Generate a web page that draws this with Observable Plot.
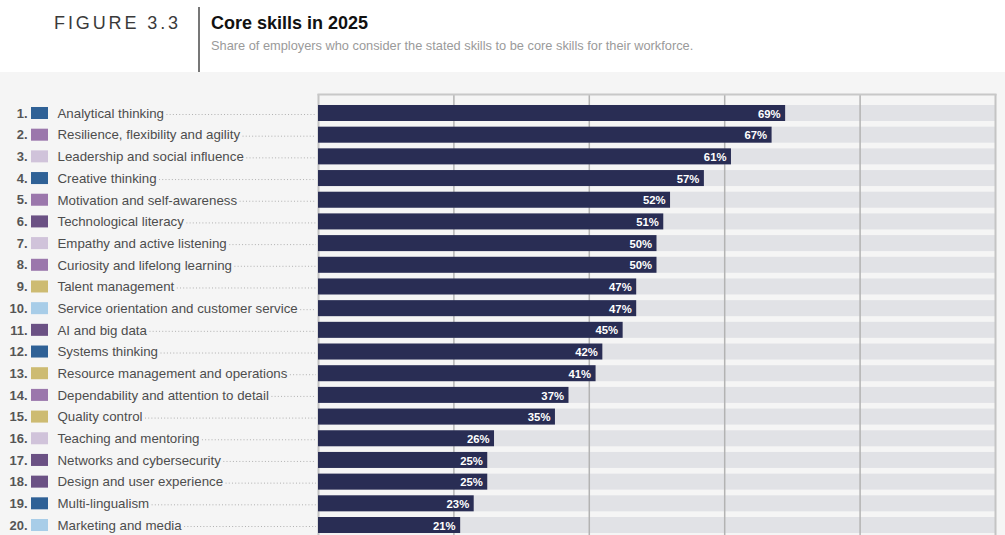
<!DOCTYPE html>
<html>
<head>
<meta charset="utf-8">
<script src="https://cdn.jsdelivr.net/npm/d3@7"></script>
<script src="https://cdn.jsdelivr.net/npm/@observablehq/plot@0.6"></script>
<style>
html, body { margin: 0; padding: 0; overflow: hidden; background: #fff; width: 1005px; height: 535px; font-family: "Liberation Sans", Arial, sans-serif; }
#header { position: relative; height: 72px; background: #fff; }
#fig { position: absolute; left: 54px; top: 14px; font-size: 18px; line-height: 18px; letter-spacing: 2.9px; color: #3a3a3a; white-space: nowrap; }
#vline { position: absolute; left: 198px; top: 7px; width: 1.5px; height: 65px; background: #777; }
#title { position: absolute; left: 211px; top: 14px; font-size: 18px; line-height: 18px; font-weight: bold; color: #111; white-space: nowrap; }
#subtitle { position: absolute; left: 211px; top: 39px; font-size: 12.8px; line-height: 13px; color: #9a9a9a; white-space: nowrap; }
#chart { background: #f5f5f5; height: 463px; overflow: hidden; }
#chart svg { display: block; }
</style>
</head>
<body>
<div id="header">
  <div id="fig">FIGURE 3.3</div>
  <div id="vline"></div>
  <div id="title">Core skills in 2025</div>
  <div id="subtitle">Share of employers who consider the stated skills to be core skills for their workforce.</div>
</div>
<div id="chart"></div>
<script>
const skills = [
  "Analytical thinking",
  "Resilience, flexibility and agility",
  "Leadership and social influence",
  "Creative thinking",
  "Motivation and self-awareness",
  "Technological literacy",
  "Empathy and active listening",
  "Curiosity and lifelong learning",
  "Talent management",
  "Service orientation and customer service",
  "AI and big data",
  "Systems thinking",
  "Resource management and operations",
  "Dependability and attention to detail",
  "Quality control",
  "Teaching and mentoring",
  "Networks and cybersecurity",
  "Design and user experience",
  "Multi-lingualism",
  "Marketing and media"
];
const values = [69, 67, 61, 57, 52, 51, 50, 50, 47, 47, 45, 42, 41, 37, 35, 26, 25, 25, 23, 21];
const groups = [
  "Cognitive", "Self-efficacy", "Working with others", "Cognitive", "Self-efficacy",
  "Technology", "Working with others", "Self-efficacy", "Management", "Engagement",
  "Technology", "Cognitive", "Management", "Self-efficacy", "Management",
  "Working with others", "Technology", "Technology", "Cognitive", "Engagement"
];
const groupNames = ["Cognitive", "Self-efficacy", "Working with others", "Technology", "Management", "Engagement"];
const groupColors = ["#2f6196", "#9b77ac", "#d0c3da", "#6b5184", "#cdbb72", "#a8cde8"];
const gridTicks = [0, 20, 40, 60, 80, 100];

const data = skills.map((s, i) => ({rank: i + 1, skill: s, value: values[i], group: groups[i]}));

// layout helpers (pixel -> x data units, for decorations in the left margin)
const W = 1005, X0 = 318, X1 = 995;
const k = (X1 - X0) / 100;
const px = p => (p - X0) / k;

const LABEL_FONT = 13.3;
const ctx = document.createElement("canvas").getContext("2d");
ctx.font = LABEL_FONT + 'px "Liberation Sans", Arial, sans-serif';
const textW = s => ctx.measureText(s).width;

const chart = Plot.plot({
  width: W,
  height: 472,
  marginLeft: X0,
  marginRight: W - X1,
  marginTop: 22,
  marginBottom: 0,
  style: {background: "#f5f5f5", fontFamily: '"Liberation Sans", Arial, sans-serif', overflow: "visible"},
  x: {domain: [0, 100], axis: null},
  y: {domain: skills, paddingInner: 0.262, paddingOuter: 0.507, round: false, axis: null},
  color: {domain: groupNames, range: groupColors},
  marks: [
    Plot.barX(data, {y: "skill", x1: 0, x2: 100, fill: "#e1e2e6"}),
    Plot.ruleX(gridTicks.filter(t => t > 0 && t < 100), {stroke: "#b3b3b3", strokeWidth: 1.5}),
    Plot.ruleX([0, 100], {stroke: "#c4c4c4", strokeWidth: 2}),
    Plot.frame({anchor: "top", stroke: "#c8c8c8", strokeWidth: 2}),
    Plot.barX(data, {y: "skill", x: "value", fill: "#292d54"}),
    Plot.text(data, {y: "skill", x: "value", text: d => d.value + "%", textAnchor: "end", dx: -5, dy: 0.5, fill: "#ffffff", fontWeight: "bold", fontSize: 11.3}),
    Plot.ruleY(data, {y: "skill", x1: d => px(57 + textW(d.skill) + 3), x2: px(316), dy: 1, stroke: "#b0b0b0", strokeWidth: 1, strokeDasharray: "1 2.2"}),
    Plot.barX(data, {y: "skill", x1: px(31), x2: px(48), fill: "group", insetTop: 2, insetBottom: 2}),
    Plot.text(data, {y: "skill", x: 0, dx: 27 - X0, text: d => d.rank + ".", textAnchor: "end", fontWeight: "bold", fontSize: 13, fill: "#555555"}),
    Plot.text(data, {y: "skill", x: 0, dx: 57 - X0, text: "skill", textAnchor: "start", fontSize: LABEL_FONT, fill: "#4d4d4d"})
  ]
});
document.getElementById("chart").appendChild(chart);
</script>
</body>
</html>
